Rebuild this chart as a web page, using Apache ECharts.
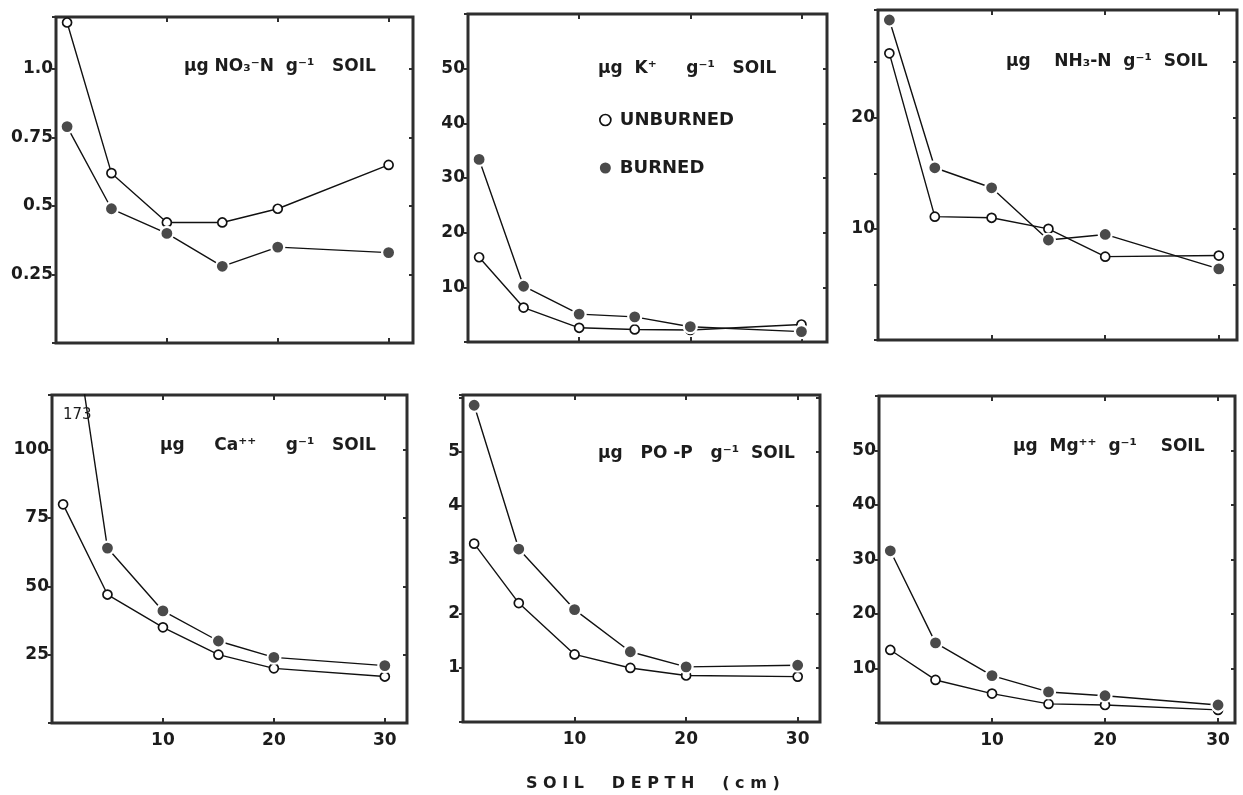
<!DOCTYPE html>
<html>
<head>
<meta charset="utf-8">
<script src="https://cdn.jsdelivr.net/npm/echarts@6/dist/echarts.min.js"></script>
<style>
html,body{margin:0;padding:0;background:#fff;}
#c{width:1243px;height:795px;}
</style>
</head>
<body>
<div id="c"></div>
<script>
// ---- data ----
const depth = [1, 5, 10, 15, 20, 30];
const no3Unburned = [1.17, 0.62, 0.44, 0.44, 0.49, 0.65];
const no3Burned   = [0.79, 0.49, 0.40, 0.28, 0.35, 0.33];
const kUnburned   = [15.5, 6.3, 2.6, 2.3, 2.2, 3.2];
const kBurned     = [33.4, 10.2, 5.1, 4.6, 2.8, 1.9];
const nh3Unburned = [25.8, 11.1, 11.0, 10.0, 7.5, 7.6];
const nh3Burned   = [28.8, 15.5, 13.7, 9.0, 9.5, 6.4];
const caUnburned  = [80, 47, 35, 25, 20, 17];
const caBurned    = [173, 64, 41, 30, 24, 21];
const poUnburned  = [3.3, 2.2, 1.25, 1.0, 0.86, 0.84];
const poBurned    = [5.86, 3.2, 2.08, 1.3, 1.02, 1.05];
const mgUnburned  = [13.4, 7.9, 5.4, 3.5, 3.3, 2.4];
const mgBurned    = [31.6, 14.7, 8.7, 5.7, 5.0, 3.3];

const xTickLabels = [10, 20, 30];
const yLabelsNO3 = [0.25, 0.5, 0.75, 1.0];
const yLabelsK   = [10, 20, 30, 40, 50];
const yLabelsNH3 = [10, 20];
const yLabelsCa  = [25, 50, 75, 100];
const yLabelsPO  = [1, 2, 3, 4, 5];
const yLabelsMg  = [10, 20, 30, 40, 50];

const titlesText = [
  'µg NO₃⁻N  g⁻¹   SOIL',
  'µg  K⁺     g⁻¹   SOIL',
  'µg    NH₃-N  g⁻¹  SOIL',
  'µg     Ca⁺⁺     g⁻¹   SOIL',
  'µg   PO -P   g⁻¹  SOIL',
  'µg  Mg⁺⁺  g⁻¹    SOIL'
];
const seriesNames = ['UNBURNED', 'BURNED'];
const xLabelText = 'S O I L     D E P T H     ( c m )';
const offScaleNote = '173';

// ---- layout ----
const FONT = 'DejaVu Sans';
const INK = '#1c1c1c';
const panels = [
  {rect:[56, 17, 357, 326], xMax:32.2, yMax:1.19, yInt:0.25, labels:yLabelsNO3, u:no3Unburned, b:no3Burned, fmt:v=>v===1?'1.0':String(v), xl:false},
  {rect:[468, 14, 359, 328], xMax:32.3, yMax:60, yInt:10, labels:yLabelsK, u:kUnburned, b:kBurned, xl:false},
  {rect:[878, 10, 359, 330], xMax:31.6, yMax:29.7, yInt:5, labels:yLabelsNH3, u:nh3Unburned, b:nh3Burned, xl:false},
  {rect:[52, 395, 355, 328], xMax:32.0, yMax:120, yInt:25, labels:yLabelsCa, u:caUnburned, b:caBurned, xl:true},
  {rect:[463, 395, 357, 327], xMax:32.0, yMax:6.05, yInt:1, labels:yLabelsPO, u:poUnburned, b:poBurned, xl:true},
  {rect:[879, 396, 356, 327], xMax:31.5, yMax:60, yInt:10, labels:yLabelsMg, u:mgUnburned, b:mgBurned, xl:true}
];
const titlePos = [[184, 58], [598, 60], [1006, 53], [160, 437], [598, 445], [1013, 438]];

const grid = [], xAxis = [], yAxis = [], series = [];
panels.forEach((p, i) => {
  grid.push({left:p.rect[0], top:p.rect[1], width:p.rect[2], height:p.rect[3],
    show:true, borderColor:'#2e2e2e', borderWidth:3, backgroundColor:'transparent'});
  const tickStyle = {color:'#2e2e2e', width:2};
  xAxis.push({gridIndex:i, type:'value', position:'bottom', min:0, max:p.xMax, interval:10,
    axisLine:{show:false, onZero:false}, splitLine:{show:false},
    axisTick:{show:true, inside:true, length:5, lineStyle:tickStyle},
    axisLabel:{show:p.xl, margin:9, fontFamily:FONT, fontSize:17, fontWeight:'bold', color:INK,
      formatter:v=>xTickLabels.includes(v)?String(v):''}});
  xAxis.push({gridIndex:i, type:'value', position:'top', min:0, max:p.xMax, interval:10,
    axisLine:{show:false, onZero:false}, splitLine:{show:false},
    axisTick:{show:true, inside:true, length:5, lineStyle:tickStyle},
    axisLabel:{show:false}});
  yAxis.push({gridIndex:i, type:'value', position:'left', min:0, max:p.yMax, interval:p.yInt,
    axisLine:{show:false, onZero:false}, splitLine:{show:false},
    axisTick:{show:true, inside:false, length:4, lineStyle:tickStyle},
    axisLabel:{margin:3, fontFamily:FONT, fontSize:17, fontWeight:'bold', color:INK,
      formatter:v=>p.labels.includes(v)?(p.fmt?p.fmt(v):String(v)):''}});
  yAxis.push({gridIndex:i, type:'value', position:'right', min:0, max:p.yMax, interval:p.yInt,
    axisLine:{show:false, onZero:false}, splitLine:{show:false},
    axisTick:{show:true, inside:true, length:4, lineStyle:tickStyle},
    axisLabel:{show:false}});
  series.push({name:seriesNames[0], type:'line', xAxisIndex:i*2, yAxisIndex:i*2,
    data:depth.map((d,k)=>[d, p.u[k]]), symbol:'circle', symbolSize:9, clip:true,
    itemStyle:{color:'#fff', borderColor:'#111', borderWidth:1.7},
    lineStyle:{color:'#111', width:1.4}, z:3, silent:true});
  series.push({name:seriesNames[1], type:'line', xAxisIndex:i*2, yAxisIndex:i*2,
    data:depth.map((d,k)=>[d, p.b[k]]), symbol:'circle', symbolSize:13, clip:true,
    itemStyle:{color:'#4a4a4a', borderColor:'#fff', borderWidth:2.2},
    lineStyle:{color:'#111', width:1.4}, z:4, silent:true});
});

const titleStyle = {fontFamily:FONT, fontSize:17, fontWeight:'bold', color:INK};
const title = titlesText.map((t, i) => ({text:t, left:titlePos[i][0], top:titlePos[i][1], padding:0, textStyle:titleStyle}));
title.push({text:offScaleNote, left:63, top:408, padding:0, textStyle:{fontFamily:FONT, fontSize:15, fontWeight:'normal', color:INK, backgroundColor:'#fff'}});
title.push({text:xLabelText, left:526, top:776, padding:0, textStyle:{fontFamily:FONT, fontSize:16, fontWeight:'bold', color:INK}});

const chart = echarts.init(document.getElementById('c'), null, {renderer:'canvas'});
chart.setOption({
  animation:false,
  backgroundColor:'#fff',
  title, grid, xAxis, yAxis, series,
  legend:{left:599, top:111, orient:'vertical', itemGap:30, icon:'circle', itemWidth:11, itemHeight:11,
    selectedMode:false, padding:0,
    textStyle:{fontFamily:FONT, fontSize:18, fontWeight:'bold', color:INK, padding:[0,0,0,4]},
    data:[
      {name:'UNBURNED', itemStyle:{color:'#fff', borderColor:'#111', borderWidth:1.7}},
      {name:'BURNED', itemStyle:{color:'#4a4a4a', borderColor:'#4a4a4a', borderWidth:0}}
    ]}
});
</script>
</body>
</html>
